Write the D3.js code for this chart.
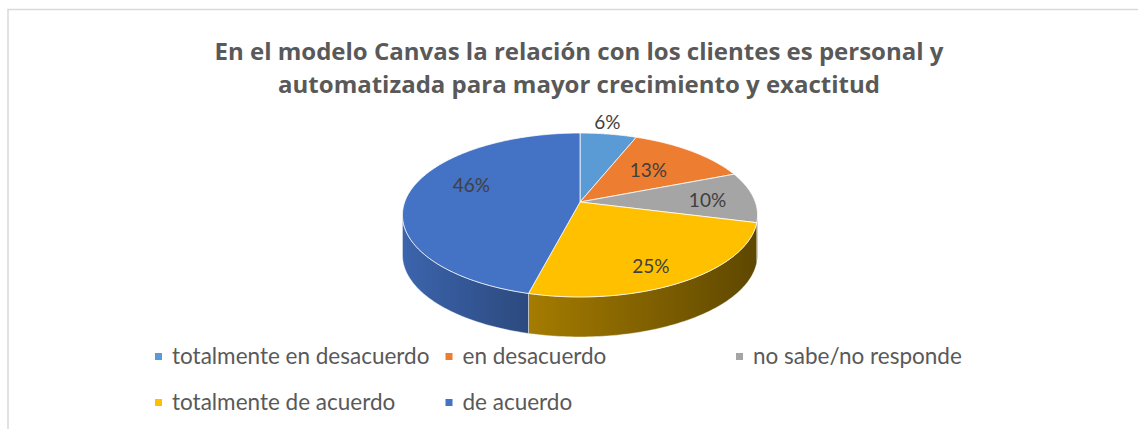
<!DOCTYPE html>
<html>
<head>
<meta charset="utf-8">
<script src="https://cdn.jsdelivr.net/npm/d3@7"></script>
<style>
  body { margin: 0; background: #fff; }
  svg { display: block; }
</style>
</head>
<body>
<div id="vis"></div>
<script>
// data
const categories = ["totalmente en desacuerdo", "en desacuerdo", "no sabe/no responde", "totalmente de acuerdo", "de acuerdo"];
const values = [6, 13, 10, 25, 46];
const colors = ["#5B9BD5", "#ED7D31", "#A5A5A5", "#FFC000", "#4472C4"];
const titleLines = ["En el modelo Canvas la relación con los clientes es personal y",
                    "automatizada para mayor crecimiento y exactitud"];

// label placement (radius as fraction of pie radius, nudge in degrees) - Excel best fit
const labelR = [1.21, 0.6, 0.73, 0.8, 0.68];
const labelNudge = [-2, -1, 2, 4, 12];

const width = 1138, height = 429;

const svg = d3.select("#vis")
    .append("svg")
    .attr("width", width)
    .attr("height", height)
    .style("font-family", "Lato, 'Open Sans', sans-serif");

// chart area border (runs off the right / bottom of the picture)
svg.append("rect")
    .attr("x", 8).attr("y", 9.5)
    .attr("width", 1200).attr("height", 500)
    .attr("fill", "none")
    .attr("stroke", "#d9d9d9")
    .attr("stroke-width", 1.5);

// title
svg.append("g").selectAll("text")
    .data(titleLines)
    .join("text")
    .attr("x", 579)
    .attr("y", (d, i) => 59.5 + i * 33.5)
    .attr("text-anchor", "middle")
    .attr("font-family", "'Open Sans', sans-serif")
    .attr("font-size", 24)
    .attr("font-weight", "bold")
    .attr("fill", "#595959")
    .text(d => d);

// 3d pie with a bit of perspective
const cx = 580, cy = 202, A = 175.3, B = 79.9, k = 0.1585, depth = 40;

function proj(a, r, dy) {
    const u = r * Math.sin(a), v = r * Math.cos(a);
    const dd = 1 + k * v;
    return [cx + A * u / dd, cy + dy - B * v / dd];
}

function rim(a0, a1, dy) {
    const n = Math.max(2, Math.ceil(Math.abs(a1 - a0) / (Math.PI / 180)));
    return d3.range(n + 1).map(i => proj(a0 + (a1 - a0) * i / n, 1, dy));
}

const arcs = d3.pie().sort(null).value(d => d)(values);
const line = d3.line();

// silhouette of the side wall
const aRight = Math.acos(-k), aLeft = 2 * Math.PI - aRight;

// lighting of the side wall by screen x
const shade = d3.scaleLinear().domain([402, 525, 757]).range([0.88, 0.65, 0.37]).clamp(true);

const defs = svg.append("defs");
const sides = svg.append("g");

arcs.forEach((d, i) => {
    const s0 = Math.max(d.startAngle, aRight), s1 = Math.min(d.endAngle, aLeft);
    if (s0 >= s1) return;
    const pts = rim(s0, s1, 0).concat(rim(s1, s0, depth));
    const xs = d3.extent(pts, p => p[0]);
    const grad = defs.append("linearGradient")
        .attr("id", "side" + i)
        .attr("gradientUnits", "userSpaceOnUse")
        .attr("x1", xs[0]).attr("x2", xs[1])
        .attr("y1", 0).attr("y2", 0);
    const base = d3.rgb(colors[i]);
    d3.range(6).forEach(j => {
        const t = j / 5, x = xs[0] + (xs[1] - xs[0]) * t, f = shade(x);
        grad.append("stop")
            .attr("offset", t)
            .attr("stop-color", d3.rgb(base.r * f, base.g * f, base.b * f).formatHex());
    });
    sides.append("path")
        .attr("d", line(pts) + "Z")
        .attr("fill", "url(#side" + i + ")")
        .attr("stroke", "rgba(255,255,255,0.55)")
        .attr("stroke-width", 0.8);
});

svg.append("g").selectAll("path")
    .data(arcs)
    .join("path")
    .attr("d", d => line([[cx, cy]].concat(rim(d.startAngle, d.endAngle, 0))) + "Z")
    .attr("fill", (d, i) => colors[i])
    .attr("stroke", "rgba(255,255,255,0.75)")
    .attr("stroke-width", 1);

// data labels
svg.append("g").selectAll("text")
    .data(arcs)
    .join("text")
    .each(function (d, i) {
        const a = (d.startAngle + d.endAngle) / 2 + labelNudge[i] * Math.PI / 180;
        const p = proj(a, labelR[i], 0);
        d3.select(this).attr("x", p[0]).attr("y", p[1]);
    })
    .attr("dy", "0.36em")
    .attr("text-anchor", "middle")
    .attr("font-size", 19)
    .attr("fill", "#404040")
    .text(d => d.data + "%");

// legend
const legend = svg.append("g").selectAll("g")
    .data(categories)
    .join("g")
    .attr("transform", (d, i) => "translate(" + (155 + (i % 3) * 290.5) + "," + (356.5 + Math.floor(i / 3) * 46) + ")");

legend.append("rect")
    .attr("x", 0).attr("y", -3.5)
    .attr("width", 7).attr("height", 7)
    .attr("fill", (d, i) => colors[i]);

legend.append("text")
    .attr("x", 17)
    .attr("y", 7)
    .attr("font-size", 22.5)
    .attr("fill", "#595959")
    .text(d => d);
</script>
</body>
</html>
